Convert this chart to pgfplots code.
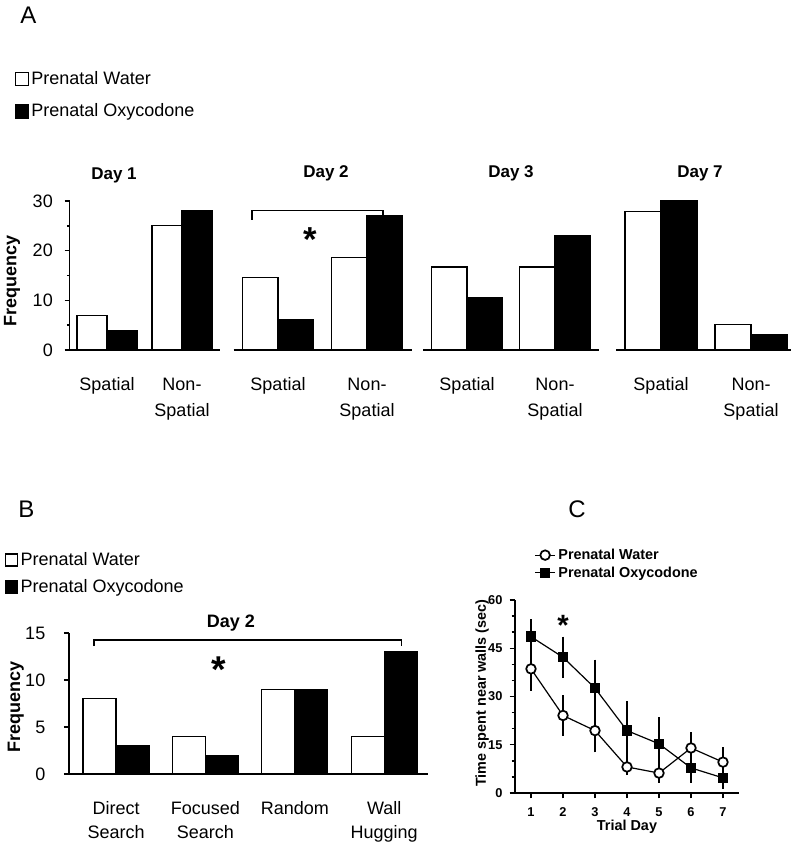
\documentclass[border=0pt]{standalone}
\usepackage{fontspec}
\setmainfont{Liberation Sans}
\usepackage{pgfplots}
\pgfplotsset{compat=1.18}

\newcommand\fA{\fontsize{13.5pt}{19.5pt}\selectfont}
\newcommand\fB{\fontsize{13.5pt}{18pt}\selectfont}
\newcommand\fday{\fontsize{12.75pt}{15pt}\selectfont\bfseries}
\newcommand\fC{\fontsize{10.8pt}{13pt}\selectfont\bfseries}
\newcommand\fCt{\fontsize{9.6pt}{11.5pt}\selectfont\bfseries}
\newcommand\fL{\fontsize{18pt}{21pt}\selectfont}

\pgfplotsset{
  barax/.style={
    scale only axis, anchor=south west, ymin=0,
    axis line style={line width=1.1pt},
    tick style={line width=1.1pt, black},
    tick align=outside,
    /pgf/number format/assume math mode=true,
    xtick style={draw=none},
    major tick length=3.75pt, minor tick length=2pt,
    xticklabel style={font=\fA, align=center, anchor=north, inner sep=0pt, yshift=-17pt},
    yticklabel style={font=\fA, anchor=east, inner sep=0pt, xshift=-8.6pt},
    clip=false,
  },
  sqleg/.style={legend image code/.code={\draw[##1] (0pt,-4.9pt) rectangle (9.75pt,4.9pt);}},
  sqlegB/.style={legend image code/.code={\draw[##1] (0pt,-4.5pt) rectangle (9pt,4.5pt);}},
  wbar/.style={fill=white, draw=black, line width=0.9pt, ybar, bar width=0.4, bar shift=-0.2, sqleg},
  obar/.style={fill=black, draw=black, line width=0.9pt, ybar, bar width=0.4, bar shift=0.2, sqleg},
}

\begin{document}
\begin{tikzpicture}
\path[use as bounding box] (0,0) rectangle (600pt,-633.75pt);

% ---------- Panel A, Day 1 ----------
\begin{axis}[barax, at={(52.125pt,-262.5pt)}, width=112.5pt, height=111.75pt,
  axis lines*=left, xmin=0.5, xmax=2.5, ymax=30,
  ytick={0,10,20,30}, minor ytick={5,15,25},
  xtick={1,2}, xticklabels={Spatial,{Non-\\Spatial}},
  ylabel={Frequency},
  ylabel style={font=\bfseries\fA, at={(axis description cs:-0.383,0.463)}, anchor=center},
  legend style={at={(axis description cs:-0.368,1.889)}, anchor=north west, draw=none, fill=none,
    inner xsep=0pt, inner ysep=0pt, font=\fA, row sep=9pt, cells={anchor=west}},
  legend cell align=left]
\addplot[wbar] coordinates {(1,7) (2,25)};
\addlegendentry{Prenatal Water}
\addplot[obar] coordinates {(1,4) (2,28)};
\addlegendentry{Prenatal Oxycodone}
\end{axis}

% ---------- Panel A, Day 2 ----------
\begin{axis}[barax, at={(175.125pt,-262.5pt)}, width=133.5pt, height=111.75pt,
  axis x line*=bottom, axis y line=none, ytick=\empty,
  xmin=0.5, xmax=2.5, ymax=30,
  xtick={1,2}, xticklabels={Spatial,{Non-\\Spatial}}]
\addplot[wbar] coordinates {(1,14.6) (2,18.7)};
\addplot[obar] coordinates {(1,6.2) (2,27.1)};
\draw[line width=0.9pt] (axis cs:0.708,26.2) -- (axis cs:0.708,28.05) -- (axis cs:2.18,28.05) -- (axis cs:2.18,26.2);
\node[font=\bfseries\fontsize{26pt}{26pt}\selectfont, yshift=-5.5pt] at (axis cs:1.36,23.8) {*};
\end{axis}

% ---------- Panel A, Day 3 ----------
\begin{axis}[barax, at={(317.25pt,-262.5pt)}, width=132pt, height=111.75pt,
  axis x line*=bottom, axis y line=none, ytick=\empty,
  xmin=0.5, xmax=2.5, ymax=30,
  xtick={1,2}, xticklabels={Spatial,{Non-\\Spatial}}]
\addplot[wbar] coordinates {(1,16.7) (2,16.7)};
\addplot[obar] coordinates {(1,10.5) (2,23.1)};
\end{axis}

% ---------- Panel A, Day 7 ----------
\begin{axis}[barax, at={(462pt,-262.5pt)}, width=130.95pt, height=111.75pt,
  axis x line*=bottom, axis y line=none, ytick=\empty,
  xmin=0.5, xmax=2.44, ymax=30,
  xtick={1,2}, xticklabels={Spatial,{Non-\\Spatial}}]
\addplot[wbar] coordinates {(1,27.9) (2,5.2)};
\addplot[obar] coordinates {(1,30) (2,3.2)};
\end{axis}

% ---------- Panel B ----------
\begin{axis}[barax, at={(51.75pt,-580.5pt)}, width=269.25pt, height=105.75pt,
  axis lines*=left, xmin=0.474, xmax=4.49, ymax=15,
  ytick={0,5,10,15},
  yticklabel style={font=\fB, xshift=-5.25pt},
  xticklabel style={font=\fB},
  xtick={1,2,3,4}, xticklabels={{Direct\\Search},{Focused\\Search},Random,{Wall\\Hugging}},
  ylabel={Frequency},
  ylabel style={font=\bfseries\fB, at={(axis description cs:-0.148,0.475)}, anchor=center},
  legend style={at={(axis description cs:-0.180,1.592)}, anchor=north west, draw=none, fill=none,
    inner xsep=0pt, inner ysep=0pt, font=\fB, row sep=5pt, cells={anchor=west}},
  legend cell align=left]
\addplot[wbar, bar width=0.37, bar shift=-0.185, sqlegB] coordinates {(1,8) (2,4) (3,9) (4,4)};
\addlegendentry{Prenatal Water}
\addplot[obar, bar width=0.37, bar shift=0.185, sqlegB] coordinates {(1,3) (2,2) (3,9) (4,13)};
\addlegendentry{Prenatal Oxycodone}
\draw[line width=0.9pt] (axis cs:0.754,13.6) -- (axis cs:0.754,14.26) -- (axis cs:4.192,14.26) -- (axis cs:4.192,13.6);
\node[font=\bfseries\fontsize{28pt}{28pt}\selectfont, yshift=-6pt] at (axis cs:2.152,11.9) {*};
\end{axis}

% ---------- Panel C ----------
\begin{axis}[scale only axis, anchor=south west, at={(386.25pt,-594.75pt)}, width=168pt, height=144.75pt,
  axis lines*=left, axis line style={line width=1.1pt},
  tick style={line width=1.1pt, black}, tick align=outside,
  major tick length=4pt, minor tick length=2.5pt,
  /pgf/number format/assume math mode=true,
  xmin=0.5, xmax=7.5, ymin=0, ymax=60,
  xtick={1,2,3,4,5,6,7}, ytick={0,15,30,45,60}, minor ytick={5,10,20,25,35,40,50,55},
  xticklabel style={font=\fCt, anchor=north, inner sep=0pt, yshift=-7pt},
  yticklabel style={font=\fCt, anchor=east, inner sep=0pt, xshift=-5.25pt},
  xlabel={Trial Day}, ylabel={Time spent near walls (sec)},
  xlabel style={font=\fC, at={(axis description cs:0.5,-0.176)}, anchor=center},
  ylabel style={font=\fC, at={(axis description cs:-0.147,0.518)}, anchor=center},
  clip=false, reverse legend,
  legend style={at={(axis description cs:0.086,1.28)}, anchor=north west, draw=none, fill=none,
    inner xsep=0pt, inner ysep=0pt, font=\fC, row sep=0pt, cells={anchor=west}},
  legend cell align=left,
  legend image code/.code={\draw[mark repeat=2,mark phase=2,#1] plot coordinates {(0pt,0pt) (7.5pt,0pt) (15pt,0pt)};}]
\addplot[black, line width=0.9pt, mark=square*, mark size=3.5pt, mark options={fill=black, line width=0.8pt},
  error bars/.cd, y dir=both, y explicit, error bar style={line width=1.3pt},
  error mark options={line width=1.3pt, mark size=3.75pt}]
  table[x=x, y=y, y error=e] {
x y e
1 48.6 3.9
2 42.2 4.9
3 32.6 7.3
4 19.4 7.6
5 15.3 6.7
6 7.8 3.1
7 4.7 1.8
};
\addlegendentry{Prenatal Oxycodone}
\addplot[black, line width=0.9pt, mark=*, mark size=3.6pt, mark options={fill=white, line width=1.3pt},
  error bars/.cd, y dir=both, y explicit, error bar style={line width=1.3pt},
  error mark options={line width=1.3pt, mark size=3.75pt}]
  table[x=x, y=y, y error=e] {
x y e
1 38.6 5.3
2 24.1 4.8
3 19.4 5.2
4 8.1 1.0
5 6.2 1.4
6 14.0 3.3
7 9.6 3.0
};
\addlegendentry{Prenatal Water}
\node[font=\bfseries\fontsize{22pt}{22pt}\selectfont, yshift=-4.6pt] at (axis cs:2,54.1) {*};
\end{axis}

% ---------- text annotations ----------
\begin{scope}[x=0.75pt, y=-0.75pt]
\node[font=\fL, anchor=base west, inner sep=0pt] at (20,24) {A};
\node[font=\fL, anchor=base west, inner sep=0pt] at (18,517) {B};
\node[font=\fL, anchor=base west, inner sep=0pt] at (568,517) {C};
\node[font=\fday, anchor=base] at (114,180) {Day 1};
\node[font=\fday, anchor=base] at (326,177) {Day 2};
\node[font=\fday, anchor=base] at (511,177) {Day 3};
\node[font=\fday, anchor=base] at (700,177) {Day 7};
\node[font=\bfseries\fB, anchor=base] at (231,627) {Day 2};
\end{scope}
\end{tikzpicture}
\end{document}
